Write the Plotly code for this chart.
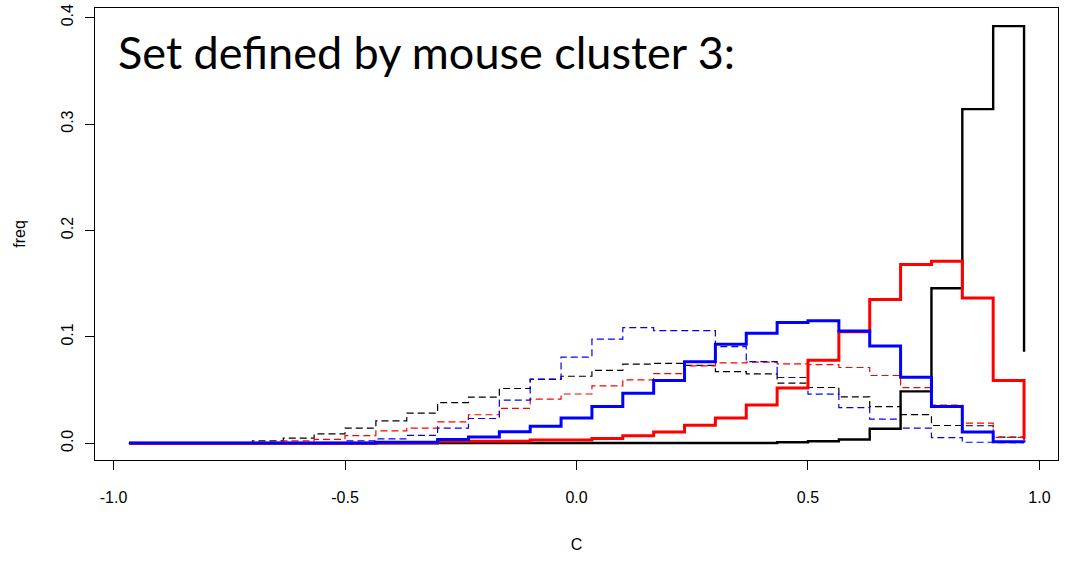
import plotly.graph_objects as go

# Histogram of C (30 bins on [-1, 1]) drawn as R-style step curves through bin mids
mids = [-29 / 30 + i / 15 for i in range(30)]

black_solid = [0, 0, 0, 0, 0, 0, 0, 0, 0, 0,
               0.0003, 0.0003, 0.0003, 0.0003, 0.0003, 0.0003, 0.0003, 0.0003, 0.0003, 0.0003,
               0.0003, 0.001, 0.0019, 0.0035, 0.0137, 0.0488, 0.1457, 0.314, 0.392, 0.086]
red_solid = [0, 0, 0, 0, 0, 0, 0, 0, 0.0004, 0.0004,
             0.0019, 0.0019, 0.0019, 0.0032, 0.0032, 0.0044, 0.0072, 0.0107, 0.0170, 0.0238,
             0.036, 0.052, 0.078, 0.1048, 0.135, 0.168, 0.171, 0.1366, 0.059, 0.004]
blue_solid = [0.0002, 0.0002, 0.0002, 0.0002, 0.0002, 0.0002, 0.0002, 0.0002, 0.001, 0.001,
              0.0035, 0.006, 0.0108, 0.016, 0.0238, 0.0346, 0.0471, 0.059, 0.0767, 0.093,
              0.1033, 0.1136, 0.1151, 0.1054, 0.0915, 0.062, 0.0346, 0.0107, 0.0015, 0.001]
black_dashed = [0, 0, 0, 0.0005, 0.0023, 0.0049, 0.0089, 0.0143, 0.0211, 0.0284,
                0.0383, 0.0434, 0.0515, 0.060, 0.063, 0.0685, 0.0744, 0.075, 0.0733, 0.0674,
                0.0653, 0.0565, 0.0524, 0.0437, 0.0345, 0.027, 0.0167, 0.0165, 0.0058, 0.003]
red_dashed = [0, 0, 0, 0, 0.0005, 0.0023, 0.0037, 0.0072, 0.0117, 0.0143,
              0.0202, 0.0268, 0.0329, 0.0415, 0.0463, 0.054, 0.0596, 0.0655, 0.0728, 0.0756,
              0.0762, 0.0746, 0.074, 0.0712, 0.0637, 0.0523, 0.0359, 0.019, 0.0056, 0.003]
blue_dashed = [0, 0, 0, 0, 0, 0, 0.0005, 0.0023, 0.0042, 0.0075,
               0.0143, 0.0233, 0.0406, 0.0603, 0.081, 0.0978, 0.1087, 0.1059, 0.1059, 0.0909,
               0.0768, 0.0618, 0.0462, 0.0336, 0.0228, 0.0143, 0.0054, 0.001, 0.0005, 0.0003]

x_ticks = [-1.0, -0.5, 0.0, 0.5, 1.0]
x_ticktext = ["-1.0", "-0.5", "0.0", "0.5", "1.0"]
y_ticks = [0.0, 0.1, 0.2, 0.3, 0.4]
y_ticktext = ["0.0", "0.1", "0.2", "0.3", "0.4"]

series = [
    (black_dashed, "#000000", 1.2, "7px,4px"),
    (red_dashed, "#ff0000", 1.2, "7px,4px"),
    (blue_dashed, "#0000ff", 1.2, "7px,4px"),
    (black_solid, "#000000", 2.4, "solid"),
    (red_solid, "#ff0000", 3, "solid"),
    (blue_solid, "#0000ff", 3, "solid"),
]

fig = go.Figure()
for values, color, width, dash in series:
    fig.add_trace(go.Scatter(
        x=mids, y=values, mode="lines",
        line=dict(shape="hv", color=color, width=width, dash=dash),
        showlegend=False, hoverinfo="skip",
    ))

axis_font = dict(family="Liberation Sans, Arial, sans-serif", size=16, color="#000000")

fig.update_layout(
    width=1066, height=562,
    margin=dict(l=95, r=8, t=8, b=102),
    paper_bgcolor="white", plot_bgcolor="white",
    font=axis_font,
    xaxis=dict(
        range=[-1.04, 1.04], tickvals=x_ticks, ticktext=x_ticktext,
        showgrid=False, zeroline=False,
        showline=True, mirror=True, linecolor="#000000", linewidth=1,
        ticks="outside", ticklen=9, tickcolor="#000000", tickwidth=1,
        ticklabelstandoff=14, tickfont=axis_font,
        title=dict(text="C", font=axis_font, standoff=33),
        automargin=False,
    ),
    yaxis=dict(
        range=[-0.0157, 0.409], tickvals=y_ticks, ticktext=y_ticktext,
        showgrid=False, zeroline=False,
        showline=True, mirror=True, linecolor="#000000", linewidth=1,
        ticks="outside", ticklen=9, tickcolor="#000000", tickwidth=1,
        tickangle=-90, ticklabelstandoff=6, tickfont=axis_font,
        title=dict(text="freq", font=axis_font, standoff=28),
        automargin=False,
    ),
    annotations=[dict(
        text="Set defined by mouse cluster 3:",
        xref="paper", yref="paper", x=(116 - 95) / 963, y=(562 - 102 - 52) / 452,
        xanchor="left", yanchor="middle", showarrow=False,
        font=dict(family="Lato, Noto Sans, sans-serif", size=45, color="#000000"),
    )],
)

fig.write_html("out.html")
